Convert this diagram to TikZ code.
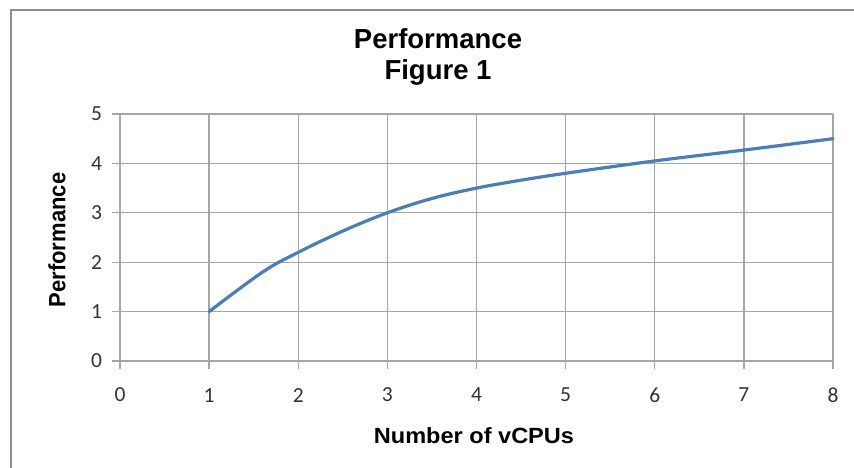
\documentclass[tikz,border=0pt]{standalone}
\usepackage{fontspec}
\setmainfont{Liberation Sans}
\newfontfamily\tickfont{Carlito}
\definecolor{perfblue}{HTML}{4A7EBB}
\definecolor{gridgray}{HTML}{A6A6A6}
\definecolor{framegray}{HTML}{8C8C8C}
\tikzset{
    gridline/.style={draw=gridgray, line width=1.3pt},
    ticklabel/.style={font=\fontsize{21.5}{21.5}\selectfont\tickfont, text=black!80, inner sep=0pt},
    axislabel/.style={font=\fontsize{22}{22}\selectfont\bfseries, inner sep=0pt},
    curve/.style={draw=perfblue, line width=3.2pt, line cap=round, line join=round}
}
\begin{document}
\begin{tikzpicture}[x=1pt,y=-1pt]
    \useasboundingbox (0,0) rectangle (854,468);
    \draw[framegray, line width=1.6pt] (11,470) -- (11,10) -- (856,10);
    \node[font=\fontsize{27.5}{31}\selectfont\bfseries, align=center] (title) at (438,57) {Performance\\Figure 1};
    \begin{scope}[shift={(120,361)}, x=89.125pt, y=49.4pt]
        \foreach \i in {0,...,5} {
            \draw[gridline] (-0.09,\i) -- (8,\i);
            \node[ticklabel, anchor=east] (yl\i) at (-0.2,\i) {\i};
        }
        \foreach \i in {0,...,8} {
            \draw[gridline] (\i,-0.16) -- (\i,5);
            \node[ticklabel] (xl\i) at (\i,-0.69) {\i};
        }
        \draw[curve] plot[smooth, tension=0.6] coordinates {
            (1,1) (1.6,1.8) (2,2.2) (2.5,2.63) (3,3) (3.5,3.29) (4,3.5)
            (4.5,3.66) (5,3.8) (6,4.05) (7,4.27) (8,4.5)};
    \end{scope}
    \node[axislabel, xscale=1.07, rotate=90] (ylabel) at (57,240) {Performance};
    \node[axislabel, xscale=1.07] (xlabel) at (474,436) {Number of vCPUs};
\end{tikzpicture}
\end{document}
